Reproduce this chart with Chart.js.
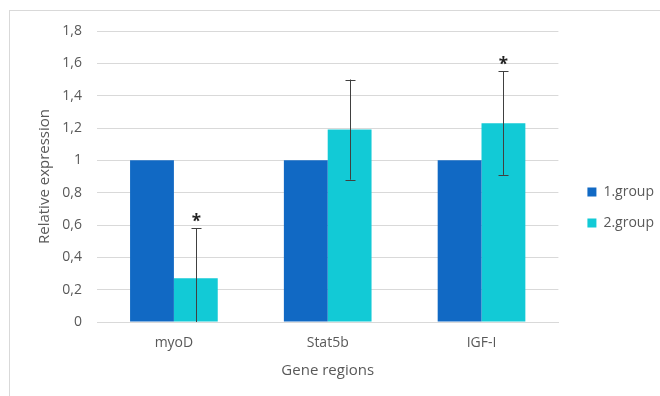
<!DOCTYPE html>
<html>
<head>
<meta charset="utf-8">
<script src="https://cdn.jsdelivr.net/npm/chart.js@4.4.1/dist/chart.umd.min.js"></script>
<style>
    body { margin: 0; background: #fff; }
    #wrap { position: relative; width: 660px; height: 396px; overflow: hidden; }
    #frame { position: absolute; left: 9px; top: 10px; width: 700px; height: 420px;
             border-left: 1px solid #d9d9d9; border-top: 1px solid #d9d9d9; }
    canvas { position: absolute; left: 0; top: 0; }
</style>
</head>
<body>
<div id="wrap">
    <div id="frame"></div>
    <canvas id="geneChart" width="660" height="396"></canvas>
</div>
<script>
const categories = ['myoD', 'Stat5b', 'IGF-I'];
const group1 = [1, 1, 1];
const group2 = [0.27, 1.19, 1.23];
const group2Err = [0.31, 0.31, 0.32];
const significant = [true, false, true];
const yTickLabels = ['0', '0,2', '0,4', '0,6', '0,8', '1', '1,2', '1,4', '1,6', '1,8'];

const textColor = '#595959';
const fontFamily = '"Open Sans", "Noto Sans", sans-serif';

// error bars + asterisks on the 2.group bars
const errorBars = {
    id: 'errorBars',
    afterLayout(chart) {
        // push the legend a bit further from the plot, like the original
        const lg = chart.legend;
        lg.left += 12;
        lg.right = chart.width;
        lg.width = lg.right - lg.left;
        lg.top += 2;
        lg.bottom += 2;
    },
    afterDatasetsDraw(chart) {
        const ctx = chart.ctx;
        const meta = chart.getDatasetMeta(1);
        const y = chart.scales.y;
        ctx.save();
        ctx.strokeStyle = '#404040';
        ctx.lineWidth = 1;
        meta.data.forEach((bar, i) => {
            const x = Math.round(bar.x) + 0.5;
            const hi = group2[i] + group2Err[i];
            const lo = Math.max(0, group2[i] - group2Err[i]);
            const yHi = y.getPixelForValue(hi);
            const yLo = y.getPixelForValue(lo);
            ctx.beginPath();
            ctx.moveTo(x, yHi);
            ctx.lineTo(x, yLo);
            ctx.moveTo(x - 5, Math.round(yHi) + 0.5);
            ctx.lineTo(x + 5, Math.round(yHi) + 0.5);
            if (group2[i] - group2Err[i] > 0) {
                ctx.moveTo(x - 5, Math.round(yLo) + 0.5);
                ctx.lineTo(x + 5, Math.round(yLo) + 0.5);
            }
            ctx.stroke();
            if (significant[i]) {
                ctx.fillStyle = '#222';
                ctx.font = 'bold 17px ' + fontFamily;
                ctx.textAlign = 'center';
                ctx.textBaseline = 'middle';
                ctx.fillText('*', x, yHi - 6);
            }
        });
        ctx.restore();
    }
};

new Chart(document.getElementById('geneChart'), {
    type: 'bar',
    data: {
        labels: categories,
        datasets: [
            { label: '1.group', data: group1, backgroundColor: '#1169C4' },
            { label: '2.group', data: group2, backgroundColor: '#12CAD6' }
        ]
    },
    options: {
        responsive: false,
        animation: false,
        categoryPercentage: 0.57,
        barPercentage: 1,
        layout: { padding: { left: 30, right: 8, top: 31, bottom: 16 } },
        scales: {
            x: {
                grid: { display: false, drawTicks: false },
                border: { color: '#d9d9d9' },
                ticks: { color: textColor, padding: 13, font: { family: fontFamily, size: 14 } },
                title: {
                    display: true, text: 'Gene regions', color: textColor,
                    padding: { top: 0, bottom: 0 }, font: { family: fontFamily, size: 15 }
                },
                afterFit: s => { s.height = 58; }
            },
            y: {
                min: 0,
                max: 1.8,
                ticks: {
                    stepSize: 0.2,
                    color: textColor,
                    padding: 15,
                    font: { family: fontFamily, size: 14 },
                    callback: (v, i) => yTickLabels[i]
                },
                grid: { color: '#d9d9d9', drawTicks: false },
                border: { display: false },
                title: {
                    display: true, text: 'Relative expression', color: textColor,
                    padding: { top: 6, bottom: 0 }, font: { family: fontFamily, size: 15 }
                },
                afterFit: s => { s.width = 67; }
            }
        },
        plugins: {
            legend: {
                position: 'right',
                labels: {
                    boxWidth: 9,
                    boxHeight: 9,
                    padding: 17,
                    color: textColor,
                    font: { family: fontFamily, size: 14 }
                }
            },
            tooltip: { enabled: false }
        }
    },
    plugins: [errorBars]
});
</script>
</body>
</html>
